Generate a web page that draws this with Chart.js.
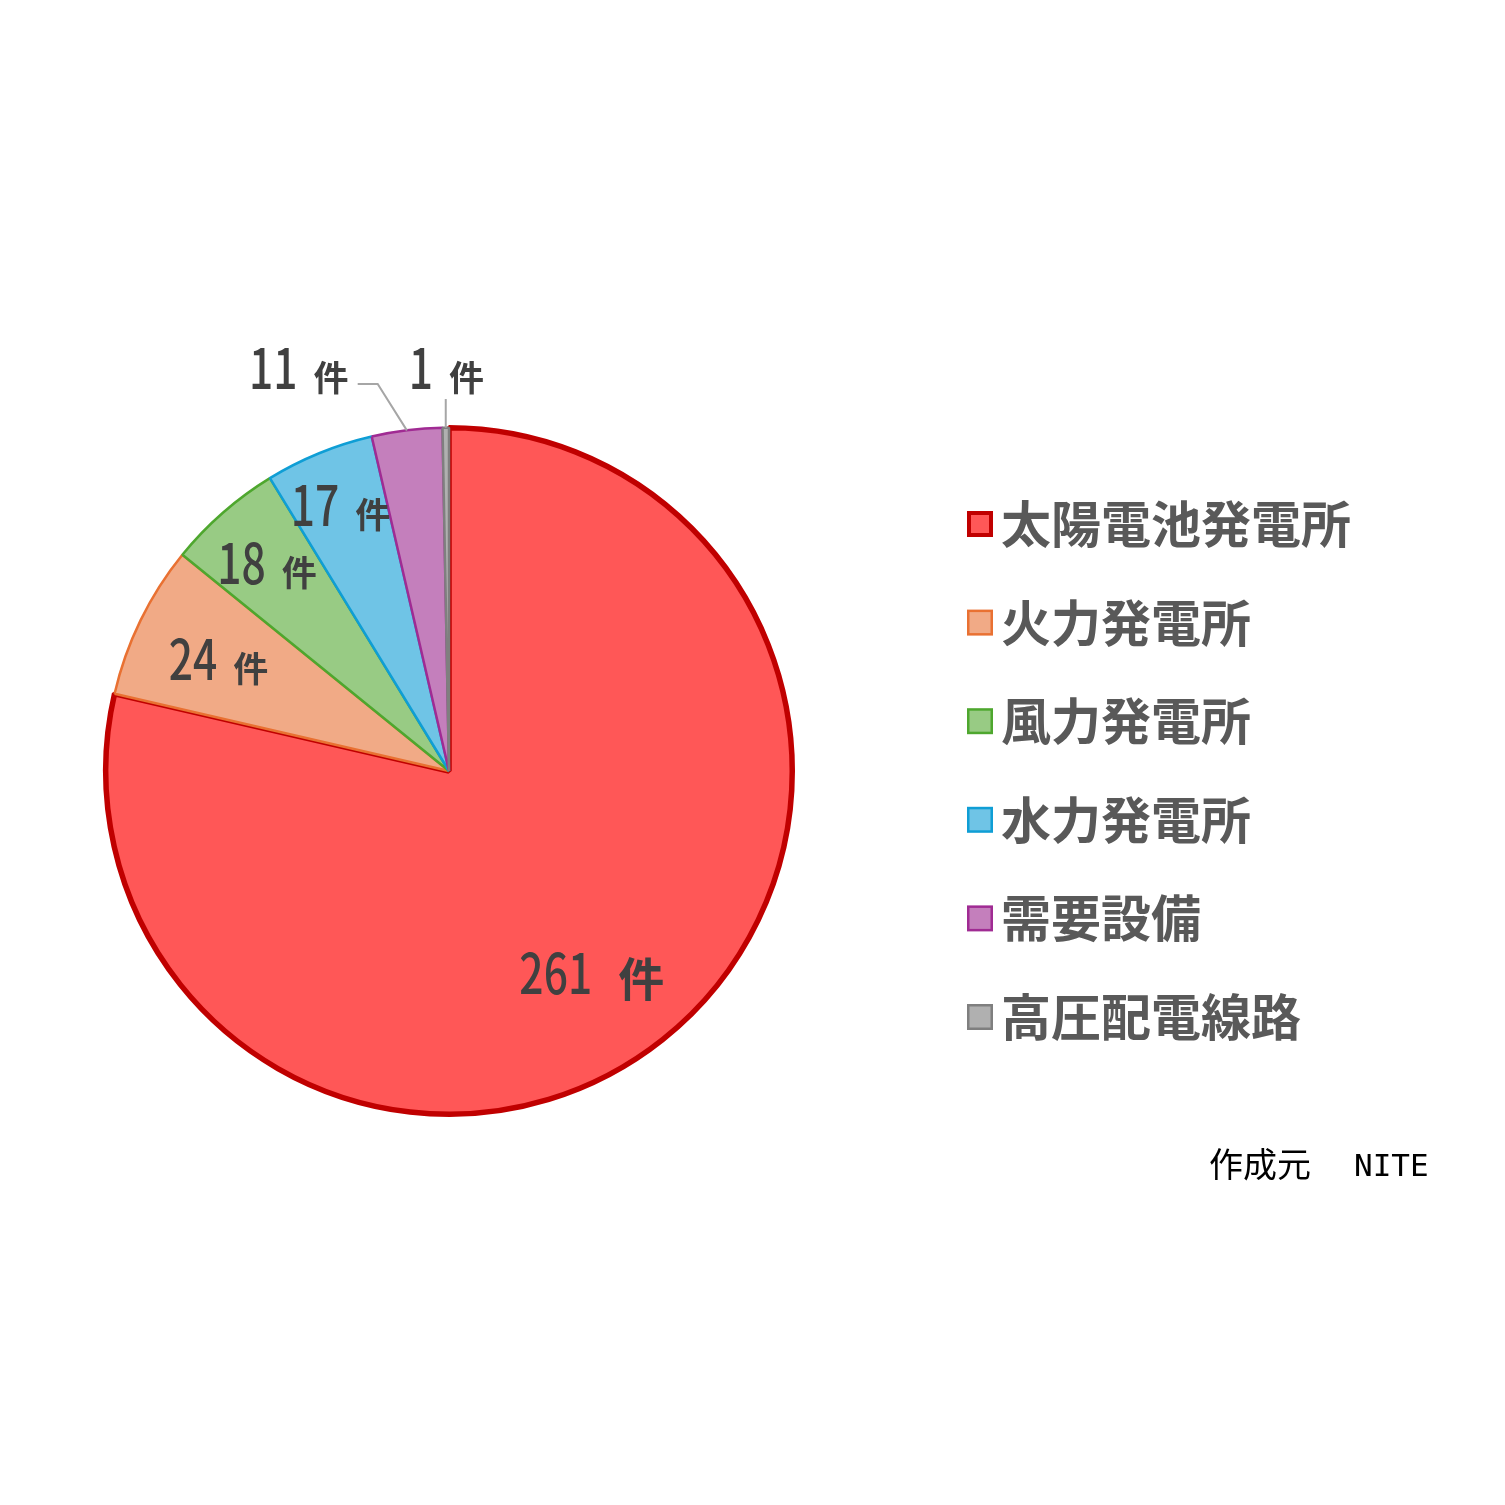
<!DOCTYPE html>
<html lang="ja">
<head>
    <meta charset="UTF-8">
    <title>事故件数の内訳</title>
    <script src="https://cdn.jsdelivr.net/npm/chart.js"></script>
    <style>
        html, body { margin: 0; padding: 0; background: #ffffff; }
        #wrap { width: 1505px; height: 1505px; position: relative; }
    </style>
</head>
<body>
    <div id="wrap">
        <canvas id="pieChart" width="1505" height="1505"></canvas>
    </div>

    <script>
        // data
        const categories = ['太陽電池発電所', '火力発電所', '風力発電所', '水力発電所', '需要設備', '高圧配電線路'];
        const counts = [261, 24, 18, 17, 11, 1];
        const unit = '件';
        const sourceNote = ['作成元', 'NITE'];

        const fillColors = ['#FF5757', '#F1AA86', '#98CB84', '#6FC4E6', '#C47FBC', '#B0B0B0'];
        const edgeColors = ['#C00000', '#E97132', '#4EA72E', '#0F9ED5', '#A02B93', '#7F7F7F'];
        const edgeWidths = [5.5, 2.5, 2.5, 2.5, 2.5, 2.5];

        // where each count label sits, relative to its slice (radius factor, angle shift)
        const labelPlace = [
            { r: 0.72, shift: 0.056 },
            { r: 0.747, shift: 0 },
            { r: 0.805, shift: 0 },
            { r: 0.836, shift: 0 },
            { r: 1.253, shift: -0.234, leader: 'elbow' },
            { r: 1.174, shift: 0.003, leader: 'up' }
        ];

        function drawCount(ctx, num, cx, cy, big) {
            const sx = 0.76;
            const numFont = '500 56px "Noto Sans CJK JP"';
            ctx.font = numFont;
            const dw = ctx.measureText(String(num)).width * sx;
            const uSize = big ? 46 : 35;
            const unitFont = '700 ' + uSize + 'px "Noto Sans CJK JP"';
            ctx.font = unitFont;
            const uw = ctx.measureText(unit).width;
            const gap = big ? 26 : 16;
            const x0 = cx - (dw + gap + uw) / 2;
            const base = cy + 21;

            ctx.fillStyle = '#404040';
            ctx.textAlign = 'left';
            ctx.textBaseline = 'alphabetic';
            ctx.save();
            ctx.translate(x0, base);
            ctx.scale(sx, 1);
            ctx.font = numFont;
            ctx.fillText(String(num), 0, 0);
            ctx.restore();
            ctx.font = unitFont;
            ctx.fillText(unit, x0 + dw + gap, base + 2);
        }

        const countLabels = {
            id: 'countLabels',
            afterDatasetsDraw(chart) {
                const ctx = chart.ctx;
                const arcs = chart.getDatasetMeta(0).data;
                ctx.save();
                arcs.forEach((arc, i) => {
                    const p = arc.getProps(['x', 'y', 'startAngle', 'endAngle', 'outerRadius'], true);
                    const mid = (p.startAngle + p.endAngle) / 2;
                    const pl = labelPlace[i];
                    const a = mid + pl.shift;
                    const lx = p.x + Math.cos(a) * p.outerRadius * pl.r;
                    const ly = p.y + Math.sin(a) * p.outerRadius * pl.r;

                    if (pl.leader) {
                        const ex = p.x + Math.cos(mid) * p.outerRadius;
                        const ey = p.y + Math.sin(mid) * p.outerRadius;
                        ctx.strokeStyle = '#A6A6A6';
                        ctx.lineWidth = 2;
                        ctx.beginPath();
                        ctx.moveTo(ex, ey);
                        if (pl.leader === 'elbow') {
                            ctx.lineTo(lx + 79, ly + 16);
                            ctx.lineTo(lx + 59, ly + 16);
                        } else {
                            ctx.lineTo(ex, ly + 31);
                        }
                        ctx.stroke();
                    }
                    drawCount(ctx, counts[i], lx, ly, i === 0);
                });
                ctx.restore();
            }
        };

        const sideLegend = {
            id: 'sideLegend',
            afterDraw(chart) {
                const ctx = chart.ctx;
                ctx.save();
                categories.forEach((name, i) => {
                    const y = 524 + i * 98.6;
                    const lw = i === 0 ? 4 : 2.5;
                    const inset = lw / 2;
                    ctx.fillStyle = fillColors[i];
                    ctx.fillRect(967 + inset, y - 13 + inset, 26 - lw, 26 - lw);
                    ctx.strokeStyle = edgeColors[i];
                    ctx.lineWidth = lw;
                    ctx.strokeRect(967 + inset, y - 13 + inset, 26 - lw, 26 - lw);

                    ctx.fillStyle = '#595959';
                    ctx.font = '700 50px "Noto Sans CJK JP"';
                    ctx.textAlign = 'left';
                    ctx.textBaseline = 'middle';
                    ctx.fillText(name, 1001, y);
                });

                // source note
                ctx.fillStyle = '#000000';
                ctx.textBaseline = 'alphabetic';
                ctx.font = '400 34px "Noto Sans CJK JP"';
                ctx.fillText(sourceNote[0], 1209, 1177);
                ctx.font = '400 31px "DejaVu Sans Mono"';
                ctx.fillText(sourceNote[1], 1354, 1176);
                ctx.restore();
            }
        };

        new Chart(document.getElementById('pieChart').getContext('2d'), {
            type: 'pie',
            data: {
                labels: categories,
                datasets: [{
                    data: counts,
                    backgroundColor: fillColors,
                    borderColor: edgeColors,
                    borderWidth: edgeWidths
                }]
            },
            options: {
                responsive: false,
                animation: false,
                events: [],
                layout: { padding: { left: 103, right: 710, top: 425, bottom: 388 } },
                plugins: {
                    legend: { display: false },
                    tooltip: { enabled: false },
                    title: { display: false }
                }
            },
            plugins: [countLabels, sideLegend]
        });
    </script>
</body>
</html>
